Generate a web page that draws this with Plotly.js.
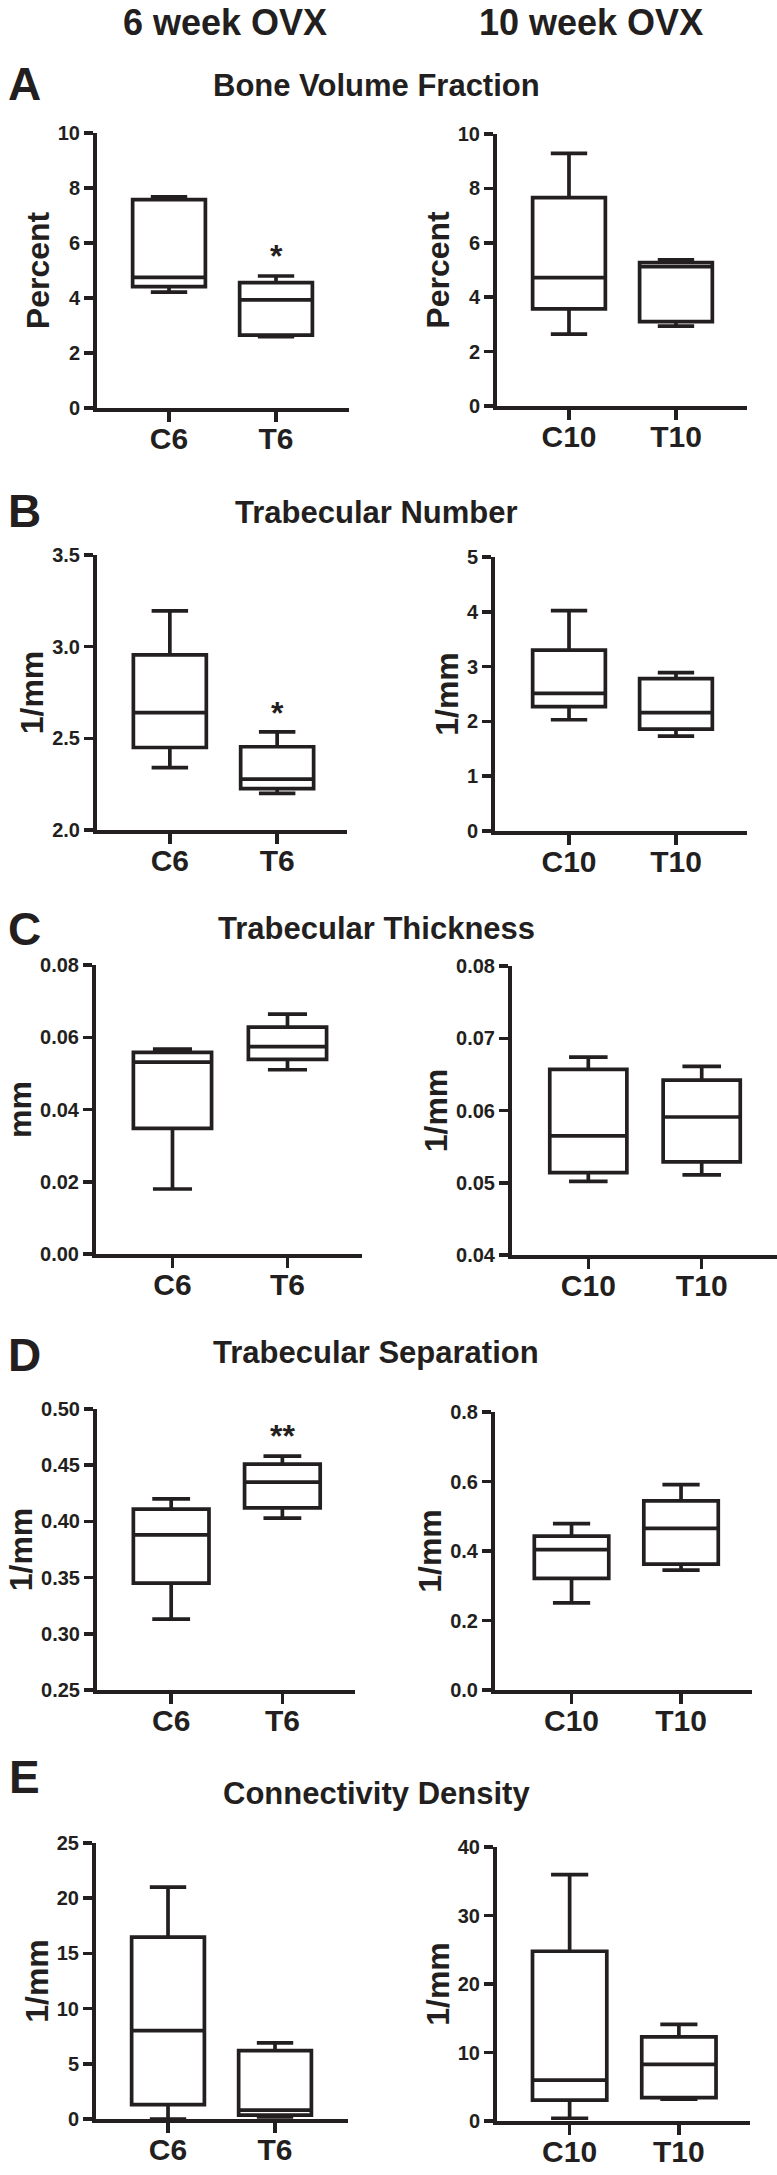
<!DOCTYPE html>
<html>
<head>
<meta charset="utf-8">
<script src="https://cdn.plot.ly/plotly-3.0.1.min.js"></script>
<style>html,body{margin:0;padding:0;background:#fff;}#chart{width:777px;height:2175px;}</style>
</head>
<body>
<div id="chart"></div>
<script>
// ---------- DATA (each group: [min, q1, median, q3, max]) ----------
const groups6 = ['C6', 'T6'];
const groups10 = ['C10', 'T10'];
const columnHeaders = ['6 week OVX', '10 week OVX'];
const panelLetters = ['A', 'B', 'C', 'D', 'E'];
const panelTitles = ['Bone Volume Fraction', 'Trabecular Number', 'Trabecular Thickness', 'Trabecular Separation', 'Connectivity Density'];
const yTitles = ['Percent', 'Percent', '1/mm', '1/mm', 'mm', '1/mm', '1/mm', '1/mm', '1/mm', '1/mm'];

// A: Bone volume fraction (%)
const bvfC6  = [4.21, 4.41, 4.75, 7.58, 7.68];
const bvfT6  = [2.59, 2.65, 3.93, 4.56, 4.80];
const bvfC10 = [2.64, 3.57, 4.72, 7.66, 9.29];
const bvfT10 = [2.94, 3.10, 5.12, 5.27, 5.37];
// B: Trabecular number (1/mm)
const tbnC6  = [2.34, 2.45, 2.64, 2.955, 3.195];
const tbnT6  = [2.20, 2.226, 2.277, 2.454, 2.535];
const tbnC10 = [2.03, 2.27, 2.51, 3.30, 4.02];
const tbnT10 = [1.73, 1.86, 2.16, 2.78, 2.89];
// C: Trabecular thickness
const tbthC6  = [0.018, 0.0348, 0.0531, 0.0558, 0.0567];
const tbthT6  = [0.051, 0.0539, 0.0574, 0.0628, 0.0664];
const tbthC10 = [0.0502, 0.0514, 0.0565, 0.0657, 0.0674];
const tbthT10 = [0.0511, 0.0529, 0.0591, 0.0642, 0.0661];
// D: Trabecular separation
const tbspC6  = [0.313, 0.345, 0.388, 0.411, 0.420];
const tbspT6  = [0.403, 0.412, 0.435, 0.451, 0.458];
const tbspC10 = [0.251, 0.321, 0.404, 0.443, 0.479];
const tbspT10 = [0.345, 0.362, 0.465, 0.544, 0.591];
// E: Connectivity density
const connC6  = [0.0, 1.3, 8.0, 16.47, 21.0];
const connT6  = [0.2, 0.36, 0.8, 6.2, 6.9];
const connC10 = [0.4, 3.06, 5.98, 24.78, 35.96];
const connT10 = [3.2, 3.4, 8.26, 12.29, 14.1];

// significance marks: [panel index, group index, y value, text]
const sigMarks = [[0, 1, 5.87, '*'], [2, 1, 2.69, '*'], [6, 1, 0.484, '**']];

// ---------- LAYOUT HELPERS ----------
const W = 777, H = 2175;
const INK = '#231f20';
const FONT = 'Liberation Sans, Arial, Helvetica, sans-serif';
const px = v => v / W;
const py = v => 1 - v / H;

const panels = [
  {cats: groups6,  d: [bvfC6, bvfT6],   xd: [97, 349],  yd: [133, 408],  xr: [-0.673, 1.682], yr: [0, 10],     dt: 2,    fmt: 'd'},
  {cats: groups10, d: [bvfC10, bvfT10], xd: [497, 747], yd: [134, 406],  xr: [-0.673, 1.664], yr: [0, 10],     dt: 2,    fmt: 'd'},
  {cats: groups6,  d: [tbnC6, tbnT6],   xd: [97, 347],  yd: [555, 830],  xr: [-0.679, 1.651], yr: [2, 3.5],    dt: 0.5,  fmt: '.1f'},
  {cats: groups10, d: [tbnC10, tbnT10], xd: [495, 747], yd: [557, 831],  xr: [-0.692, 1.664], yr: [0, 5],      dt: 1,    fmt: 'd'},
  {cats: groups6,  d: [tbthC6, tbthT6], xd: [96, 362],  yd: [965, 1254], xr: [-0.665, 1.648], yr: [0, 0.08],   dt: 0.02, fmt: '.2f'},
  {cats: groups10, d: [tbthC10, tbthT10], xd: [512, 777], yd: [966, 1255], xr: [-0.673, 1.664], yr: [0.04, 0.08], dt: 0.01, fmt: '.2f'},
  {cats: groups6,  d: [tbspC6, tbspT6], xd: [97, 355],  yd: [1409, 1690], xr: [-0.667, 1.653], yr: [0.25, 0.5], dt: 0.05, fmt: '.2f'},
  {cats: groups10, d: [tbspC10, tbspT10], xd: [495, 752], yd: [1412, 1690], xr: [-0.699, 1.648], yr: [0, 0.8], dt: 0.2, fmt: '.1f'},
  {cats: groups6,  d: [connC6, connT6], xd: [96, 348],  yd: [1843, 2119], xr: [-0.673, 1.682], yr: [0, 25],    dt: 5,    fmt: 'd'},
  {cats: groups10, d: [connC10, connT10], xd: [497, 750], yd: [1847, 2121], xr: [-0.665, 1.651], yr: [0, 40],  dt: 10,   fmt: 'd'}
];

const traces = [];
const layout = {
  width: W, height: H,
  margin: {l: 0, r: 0, t: 0, b: 0},
  paper_bgcolor: '#ffffff', plot_bgcolor: '#ffffff',
  showlegend: false,
  font: {family: FONT, color: INK},
  annotations: []
};

panels.forEach((p, i) => {
  const n = i === 0 ? '' : String(i + 1);
  const pos = p.cats.map((c, k) => k);
  traces.push({
    type: 'box',
    xaxis: 'x' + n, yaxis: 'y' + n,
    x: pos,
    lowerfence: p.d.map(g => g[0]),
    q1: p.d.map(g => g[1]),
    median: p.d.map(g => g[2]),
    q3: p.d.map(g => g[3]),
    upperfence: p.d.map(g => g[4]),
    width: 0.68,
    whiskerwidth: 0.5,
    boxpoints: false,
    fillcolor: '#ffffff',
    line: {color: INK, width: 3.7},
    hoverinfo: 'skip'
  });
  layout['xaxis' + n] = {
    domain: [px(p.xd[0]), px(p.xd[1])],
    anchor: 'y' + n,
    range: p.xr,
    tickvals: pos,
    ticktext: p.cats,
    showline: true, linewidth: 4, linecolor: INK,
    ticks: 'outside', ticklen: 10, tickwidth: 3.5, tickcolor: INK,
    ticklabelstandoff: -9,
    showgrid: false, zeroline: false, fixedrange: true,
    tickfont: {family: FONT, size: 30, color: INK, weight: 'bold'}
  };
  layout['yaxis' + n] = {
    domain: [py(p.yd[1]), py(p.yd[0])],
    anchor: 'x' + n,
    range: p.yr,
    tick0: p.yr[0], dtick: p.dt,
    tickformat: p.fmt,
    showline: true, linewidth: 4, linecolor: INK,
    ticks: 'outside', ticklen: 9, tickwidth: 3.5, tickcolor: INK,
    showgrid: false, zeroline: false, fixedrange: true,
    tickfont: {family: FONT, size: 20, color: INK, weight: 'bold'},
    title: {text: yTitles[i], standoff: 0, font: {family: FONT, size: 32, color: INK, weight: 'bold'}}
  };
});

// column headers
const headerX = [225, 591];
columnHeaders.forEach((t, k) => {
  layout.annotations.push({xref: 'paper', yref: 'paper', x: px(headerX[k]), y: py(22),
    xanchor: 'center', yanchor: 'middle', showarrow: false, text: t,
    font: {family: FONT, size: 36, color: INK, weight: 'bold'}});
});

// panel letters and titles
const letterY = [84, 511, 929, 1355, 1777];
const titleY = [86, 512, 928, 1352, 1793];
panelLetters.forEach((L, k) => {
  layout.annotations.push({xref: 'paper', yref: 'paper', x: px(24), y: py(letterY[k]),
    xanchor: 'center', yanchor: 'middle', showarrow: false, text: L,
    font: {family: FONT, size: 46, color: INK, weight: 'bold'}});
  layout.annotations.push({xref: 'paper', yref: 'paper', x: px(376), y: py(titleY[k]),
    xanchor: 'center', yanchor: 'middle', showarrow: false, text: panelTitles[k],
    font: {family: FONT, size: 31, color: INK, weight: 'bold'}});
});

// significance asterisks
sigMarks.forEach(s => {
  const n = s[0] === 0 ? '' : String(s[0] + 1);
  layout.annotations.push({xref: 'x' + n, yref: 'y' + n, x: s[1], y: s[2],
    xanchor: 'center', yanchor: 'middle', yshift: -9, showarrow: false, text: s[3],
    font: {family: FONT, size: 32, color: INK, weight: 'bold'}});
});

Plotly.newPlot('chart', traces, layout, {staticPlot: true, displayModeBar: false});
</script>
</body>
</html>
